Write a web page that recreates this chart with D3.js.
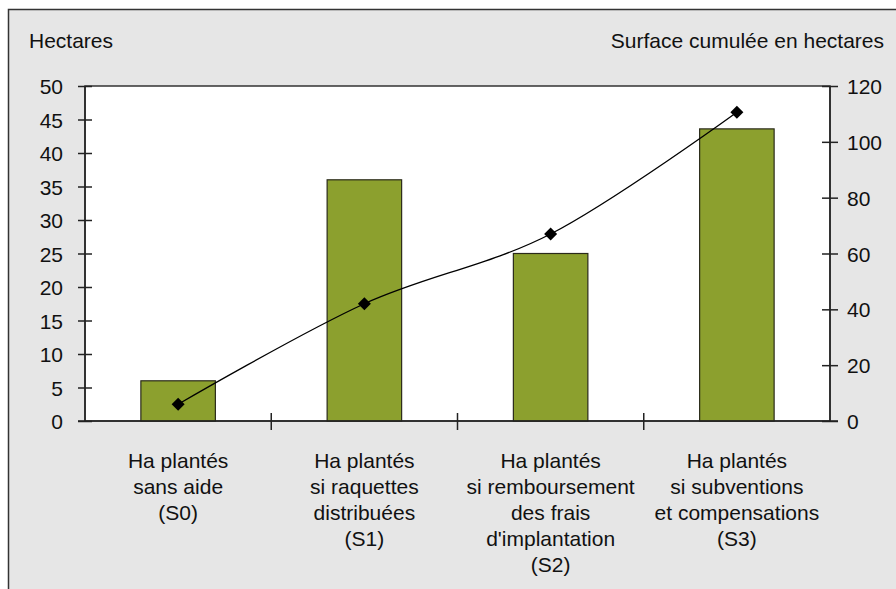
<!DOCTYPE html>
<html><head><meta charset="utf-8">
<script src="https://cdn.jsdelivr.net/npm/d3@7"></script>
<style>
body{margin:0;background:#fff;}
svg text{font-family:"Liberation Sans",Arial,Helvetica,sans-serif;fill:#111;}
</style></head>
<body><svg id="c" width="896" height="589"></svg>
<script>
const categories = [
  ["Ha plantés","sans aide","(S0)"],
  ["Ha plantés","si raquettes","distribuées","(S1)"],
  ["Ha plantés","si remboursement","des frais","d'implantation","(S2)"],
  ["Ha plantés","si subventions","et compensations","(S3)"]
];
const barValues = [6, 36, 25, 43.6];
const cumulValues = [6, 42, 67, 110.6];
const leftTicks = [0,5,10,15,20,25,30,35,40,45,50];
const rightTicks = [0,20,40,60,80,100,120];
const leftTitle = "Hectares";
const rightTitle = "Surface cumulée en hectares";

const svg = d3.select("#c");
const fs = 21;
svg.append("rect").attr("x",8.5).attr("y",9.5).attr("width",900).attr("height",600)
  .attr("fill","#e6e6e6").attr("stroke","#333").attr("stroke-width",1.5);

const L=85, R=830, T=86, B=421;
svg.append("rect").attr("x",L).attr("y",T).attr("width",R-L).attr("height",B-T)
  .attr("fill","#fff").attr("stroke","#333").attr("stroke-width",1.5);

const xc = d3.scaleBand().domain(d3.range(categories.length)).range([L,R]);
const yL = d3.scaleLinear().domain([0,50]).range([B,T]);
const yR = d3.scaleLinear().domain([0,120]).range([B,T]);

// bars
const bw = xc.bandwidth()*0.4;
svg.append("g").selectAll("rect").data(barValues).join("rect")
  .attr("x",(d,i)=>xc(i)+xc.bandwidth()/2-bw/2)
  .attr("y",d=>yL(d)).attr("width",bw).attr("height",d=>B-yL(d))
  .attr("fill","#8ca02e").attr("stroke","#2a2a1a").attr("stroke-width",1.2);

// left axis
const gl = svg.append("g").attr("transform",`translate(${L},0)`)
  .call(d3.axisLeft(yL).tickValues(leftTicks).tickSize(7).tickPadding(16));
gl.selectAll(".tick line").attr("x2",-7).attr("x1",7);
gl.selectAll("line,path").attr("stroke","#222").attr("stroke-width",1.5);
gl.select(".domain").attr("d",`M0,${T}V${B}`);
gl.selectAll("text").style("font-size",fs+"px").attr("x",-22).attr("fill","#111");

// right axis
const gr = svg.append("g").attr("transform",`translate(${R},0)`)
  .call(d3.axisRight(yR).tickValues(rightTicks).tickSize(7));
gr.selectAll(".tick line").attr("x1",-8).attr("x2",8);
gr.selectAll("line,path").attr("stroke","#222").attr("stroke-width",1.5);
gr.select(".domain").attr("d",`M0,${T}V${B}`);
gr.selectAll("text").style("font-size",fs+"px").attr("x",17).attr("fill","#111");
gl.selectAll("text").attr("dy","0.36em");
gr.selectAll("text").attr("dy","0.36em");

// bottom axis
const gb = svg.append("g").attr("transform",`translate(0,${B})`);
gb.append("line").attr("x1",L-7).attr("x2",R+8).attr("stroke","#222").attr("stroke-width",1.5);
gb.selectAll("line.t").data(d3.range(1,categories.length)).join("line").attr("class","t")
  .attr("x1",i=>xc(i)).attr("x2",i=>xc(i)).attr("y1",-8).attr("y2",9)
  .attr("stroke","#222").attr("stroke-width",1.5);
categories.forEach((lines,i)=>{
  const t = svg.append("text").attr("text-anchor","middle").style("font-size",fs+"px");
  lines.forEach((ln,j)=>t.append("tspan").attr("x",xc(i)+xc.bandwidth()/2).attr("y",468+j*26).text(ln));
});

// line
const pts = cumulValues.map((v,i)=>[xc(i)+xc.bandwidth()/2, yR(v)]);
svg.append("path").attr("d",d3.line().curve(d3.curveCardinal.tension(0))(pts))
  .attr("fill","none").attr("stroke","#000").attr("stroke-width",1.3);
svg.append("g").selectAll("path").data(pts).join("path")
  .attr("transform",d=>`translate(${d[0]},${d[1]})`)
  .attr("d","M0,-6.5L6.5,0L0,6.5L-6.5,0Z").attr("fill","#000");

// titles
svg.append("text").attr("x",29).attr("y",48).style("font-size",fs+"px").text(leftTitle);
svg.append("text").attr("x",884).attr("y",48).attr("text-anchor","end").style("font-size",fs+"px").text(rightTitle);
</script></body></html>
